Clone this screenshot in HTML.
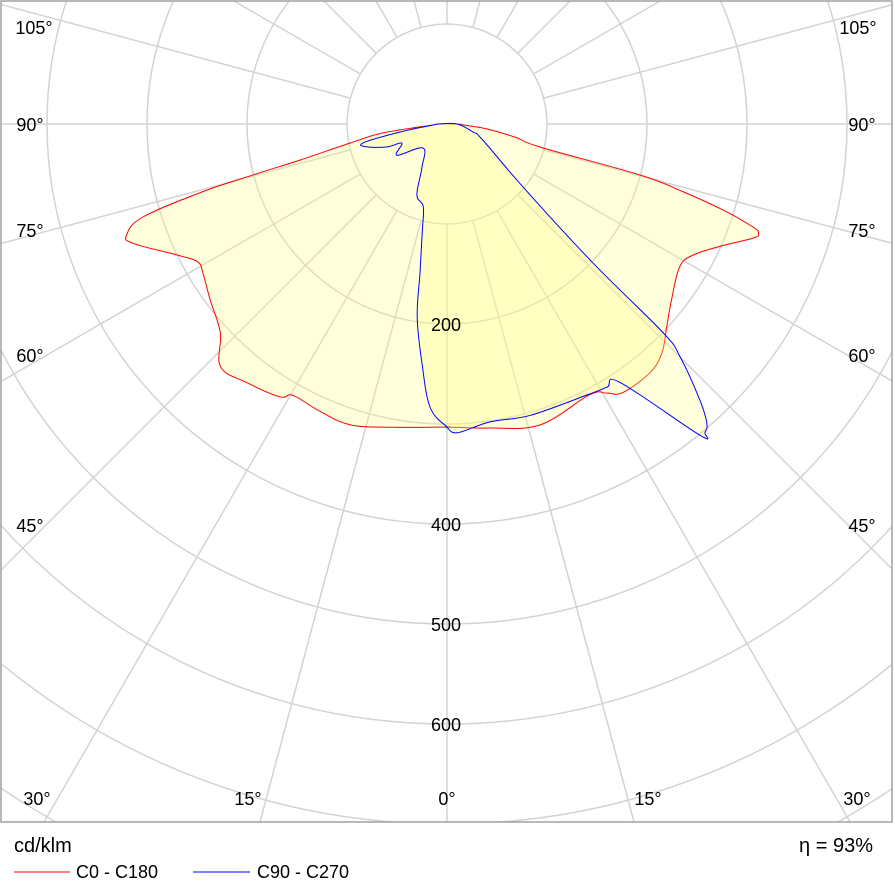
<!DOCTYPE html>
<html><head><meta charset="utf-8"><style>
html,body{margin:0;background:#fff;width:895px;height:893px;overflow:hidden;font-family:"Liberation Sans",sans-serif}
svg{position:absolute;left:0;top:0;overflow:hidden}
</style></head><body>
<svg id="chart" width="895" height="893" viewBox="0 0 895 893">
<defs><clipPath id="plotclip"><rect x="1" y="1" width="891" height="821"/></clipPath></defs>
<g id="grid" clip-path="url(#plotclip)"></g>
<g id="curves" clip-path="url(#plotclip)"></g>
<g id="labels"></g>
<rect x="1" y="1" width="891" height="821" fill="none" stroke="#a0a0a0" stroke-width="1.5"/>
<text x="14" y="852" font-size="20" fill="#000">cd/klm</text>
<text x="873" y="852" font-size="20" fill="#000" text-anchor="end">η = 93%</text>
<line x1="14" y1="872" x2="70" y2="872" stroke="#ff0000" stroke-width="1"/>
<text x="76" y="878" font-size="18">C0 - C180</text>
<line x1="193" y1="872" x2="250" y2="872" stroke="#0000ff" stroke-width="1"/>
<text x="257" y="878" font-size="18">C90 - C270</text>
</svg>
<script>
// Data (gamma in degrees, intensity in cd/klm)
const redRightGamma = [0,8,17.2,27.8,30.7,33.2,39.2,43.2,47.3,52,58.5,62,66,69.6,70.7,71.4,72.7,74,75.2,76.1,79,83,86,90];
const redRightValue = [303,307,315,306,313,321,321,314,299,285,273,279,300,327,330,323,289,245,200,96,70,40,18,10];
const redLeftGamma  = [0,10,17.9,24,29.6,31.5,37.7,43,47.4,53.4,58.6,61.1,64.1,69.2,70.9,73,74.5,75.3,76.2,78.9,82,86,90];
const redLeftValue  = [303,308,316,314,312,320,327,332,308,295,286,285,300,336,339,318,254,200,151,99,65,14,8];
const blueRightGamma = [0,1.9,8.2,16,27.3,31.3,33.8,39.1,39.9,41,42.5,45,46,46.4,50.3,66,73,90];
const blueRightValue = [303,309,301,303,305,308,311,401,402,396,374,330,300,202,99,39,27,10];
const blueLeftGamma  = [0,3.4,6,8.8,10.3,13,16,23,30,45,58,67,69,74,77.3,80.3,86,90];
const blueLeftValue  = [303,284,240,195,151,110,86,77,50,34,59,49,64,83,86,48,14,8];
const ringValues = [100,200,300,400,500,600,700,800];
const intensityTickLabels = ["200","400","500","600"];
const intensityTickValues = [200,400,500,600];

const NS="http://www.w3.org/2000/svg";
const cx=447, cy=124, scale=1.0;
function rad(v){return v*scale;}
function px(g,v,side){const a=g*Math.PI/180;return [cx+side*rad(v)*Math.sin(a), cy+rad(v)*Math.cos(a)];}

const grid=document.getElementById('grid');
ringValues.forEach(v=>{
  const c=document.createElementNS(NS,'circle');
  
  
  c.setAttribute('cx',cx);c.setAttribute('cy',cy);c.setAttribute('r',rad(v));
  c.setAttribute('fill','none');c.setAttribute('stroke','#d3d3d3');c.setAttribute('stroke-width','1.5');
  grid.appendChild(c);
});
for(let k=0;k<24;k++){
  const a=k*15*Math.PI/180;
  const l=document.createElementNS(NS,'line');
  
  
  l.setAttribute('x1',cx+100*Math.sin(a));l.setAttribute('y1',cy+100*Math.cos(a));
  l.setAttribute('x2',cx+1400*Math.sin(a));l.setAttribute('y2',cy+1400*Math.cos(a));
  l.setAttribute('stroke','#d3d3d3');l.setAttribute('stroke-width','1.5');
  grid.appendChild(l);
}

function buildPath(rg,rv,lg,lv){
  const pts=[];
  for(let i=0;i<rg.length;i++) pts.push(px(rg[i],rv[i],1));
  for(let i=lg.length-1;i>=0;i--) pts.push(px(lg[i],lv[i],-1));
  const n=pts.length, t=0.18;
  let d='M'+pts[0][0].toFixed(1)+','+pts[0][1].toFixed(1);
  for(let i=0;i<n;i++){
    const p0=pts[(i-1+n)%n],p1=pts[i],p2=pts[(i+1)%n],p3=pts[(i+2)%n];
    const c1=[p1[0]+(p2[0]-p0[0])*t,p1[1]+(p2[1]-p0[1])*t];
    const c2=[p2[0]-(p3[0]-p1[0])*t,p2[1]-(p3[1]-p1[1])*t];
    d+='C'+c1[0].toFixed(1)+','+c1[1].toFixed(1)+' '+c2[0].toFixed(1)+','+c2[1].toFixed(1)+' '+p2[0].toFixed(1)+','+p2[1].toFixed(1);
  }
  return d+'Z';
}
const curves=document.getElementById('curves');
function addCurve(d,color,name){
  const f=document.createElementNS(NS,'path');
  
  
  f.setAttribute('d',d);f.setAttribute('fill','#ffff80');f.setAttribute('fill-opacity','0.28');f.setAttribute('stroke','none');
  curves.appendChild(f);
  const s=document.createElementNS(NS,'path');
  
  
  s.setAttribute('d',d);s.setAttribute('fill','none');s.setAttribute('stroke',color);s.setAttribute('stroke-width','1');s.setAttribute('stroke-linejoin','round');
  curves.appendChild(s);
}
addCurve(buildPath(redRightGamma,redRightValue,redLeftGamma,redLeftValue),'#ff0000','c0-c180');
addCurve(buildPath(blueRightGamma,blueRightValue,blueLeftGamma,blueLeftValue),'#0000ff','c90-c270');

const labels=document.getElementById('labels');
function addText(x,y,t,anchor,name){
  const e=document.createElementNS(NS,'text');
  
  
  e.setAttribute('x',x);e.setAttribute('y',y);e.setAttribute('font-size','18');
  e.setAttribute('text-anchor',anchor);e.textContent=t;labels.appendChild(e);
}
intensityTickValues.forEach((v,i)=>addText(cx-1,cy+rad(v)+7,intensityTickLabels[i],'middle','intensity-tick-label'));
const angleLabels=[["0°",447,805],["15°",248,805],["15°",648,805],["30°",37,805],["30°",857,805],
["45°",30,532],["45°",862,532],["60°",30,362],["60°",862,362],["75°",30,237],["75°",862,237],
["90°",30,131],["90°",862,131],["105°",34,34],["105°",858,34]];
angleLabels.forEach(a=>addText(a[1],a[2],a[0],'middle','angle-label'));
</script>
</body></html>
